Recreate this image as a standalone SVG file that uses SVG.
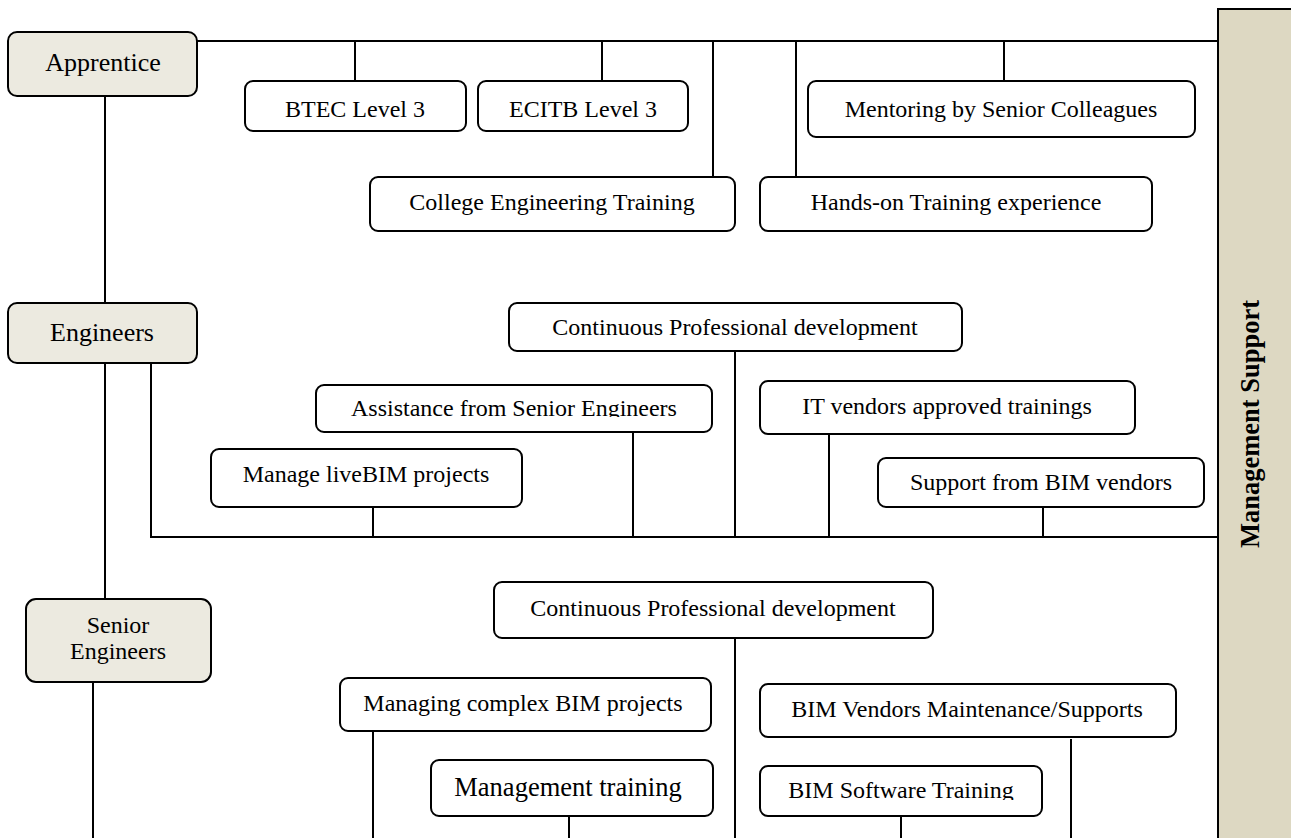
<svg xmlns="http://www.w3.org/2000/svg" width="1291" height="838" viewBox="0 0 1291 838">
<style>
  .box { fill: #ffffff; stroke: #000000; stroke-width: 2; }
  .lvl { fill: #ECEAE0; stroke: #000000; stroke-width: 2; }
  .bar { fill: #DDD8C2; stroke: #000000; stroke-width: 2; }
  .t { font-family: "Liberation Serif", "Times New Roman", serif; font-size: 24px; fill: #000000; text-anchor: middle; }
  .tl { font-family: "Liberation Serif", "Times New Roman", serif; font-size: 26px; fill: #000000; text-anchor: middle; }
  .tb { font-family: "Liberation Serif", "Times New Roman", serif; font-size: 26.5px; font-weight: bold; fill: #000000; text-anchor: middle; }
  .conn path { fill: none; stroke: #000000; stroke-width: 2; }
</style>
<defs>
  <clipPath id="clipAssist"><rect x="316" y="385" width="396" height="32"/></clipPath>
  <clipPath id="clipSoft"><rect x="760" y="766" width="282" height="34"/></clipPath>
</defs>
<rect x="0" y="0" width="1291" height="838" fill="#ffffff"/>

<g id="connectors" class="conn">
  <path d="M197,41 H1218"/>
  <path d="M355,41 V81"/>
  <path d="M602,41 V81"/>
  <path d="M713,41 V177"/>
  <path d="M796,41 V177"/>
  <path d="M1004,41 V81"/>
  <path d="M105,96 V303"/>
  <path d="M105,363 V599"/>
  <path d="M151,363 V537 H1218"/>
  <path d="M373,505 V537"/>
  <path d="M633,432 V537"/>
  <path d="M735,351 V537"/>
  <path d="M829,434 V537"/>
  <path d="M1043,505 V537"/>
  <path d="M93,682 V838"/>
  <path d="M735,638 V838"/>
  <path d="M373,731 V838"/>
  <path d="M569,816 V838"/>
  <path d="M901,816 V838"/>
  <path d="M1071,739 V838"/>
</g>

<g id="management-support">
  <rect class="bar" x="1218" y="9" width="80" height="840"/>
  <text class="tb" transform="translate(1259,424) rotate(-90)" x="0" y="0">Management Support</text>
</g>

<g id="apprentice">
  <rect class="lvl" x="8" y="32" width="189" height="64" rx="9"/>
  <text class="tl" x="103" y="71">Apprentice</text>
</g>
<g id="btec">
  <rect class="box" x="245" y="81" width="221" height="50" rx="8"/>
  <text class="t" x="355" y="117">BTEC Level 3</text>
</g>
<g id="ecitb">
  <rect class="box" x="478" y="81" width="210" height="50" rx="8"/>
  <text class="t" x="583" y="117">ECITB Level 3</text>
</g>
<g id="mentoring">
  <rect class="box" x="808" y="81" width="387" height="56" rx="8"/>
  <text class="t" x="1001" y="117">Mentoring by Senior Colleagues</text>
</g>
<g id="college">
  <rect class="box" x="370" y="177" width="365" height="54" rx="8"/>
  <text class="t" x="552" y="210">College Engineering Training</text>
</g>
<g id="handson">
  <rect class="box" x="760" y="177" width="392" height="54" rx="8"/>
  <text class="t" x="956" y="210">Hands-on Training experience</text>
</g>

<g id="engineers">
  <rect class="lvl" x="8" y="303" width="189" height="60" rx="9"/>
  <text class="tl" x="102" y="341">Engineers</text>
</g>
<g id="cpd-engineers">
  <rect class="box" x="509" y="303" width="453" height="48" rx="8"/>
  <text class="t" x="735" y="335">Continuous Professional development</text>
</g>
<g id="assistance">
  <rect class="box" x="316" y="385" width="396" height="47" rx="8"/>
  <text class="t" x="514" y="416" clip-path="url(#clipAssist)">Assistance from Senior Engineers</text>
</g>
<g id="it-vendors">
  <rect class="box" x="760" y="381" width="375" height="53" rx="8"/>
  <text class="t" x="947" y="414">IT vendors approved trainings</text>
</g>
<g id="manage-livebim">
  <rect class="box" x="211" y="449" width="311" height="58" rx="8"/>
  <text class="t" x="366" y="482">Manage liveBIM projects</text>
</g>
<g id="support-bim">
  <rect class="box" x="878" y="458" width="326" height="49" rx="8"/>
  <text class="t" x="1041" y="490">Support from BIM vendors</text>
</g>

<g id="senior-engineers">
  <rect class="lvl" x="26" y="599" width="185" height="83" rx="10"/>
  <text class="t" x="118" y="633">Senior</text>
  <text class="t" x="118" y="659">Engineers</text>
</g>
<g id="cpd-senior">
  <rect class="box" x="494" y="582" width="439" height="56" rx="8"/>
  <text class="t" x="713" y="616">Continuous Professional development</text>
</g>
<g id="managing-complex">
  <rect class="box" x="340" y="678" width="371" height="53" rx="8"/>
  <text class="t" x="523" y="711">Managing complex BIM projects</text>
</g>
<g id="bim-vendors">
  <rect class="box" x="760" y="684" width="416" height="53" rx="8"/>
  <text class="t" x="967" y="717">BIM Vendors Maintenance/Supports</text>
</g>
<g id="management-training">
  <rect class="box" x="431" y="760" width="282" height="56" rx="8"/>
  <text class="t" x="568" y="796" style="font-size:26.5px">Management training</text>
</g>
<g id="bim-software">
  <rect class="box" x="760" y="766" width="282" height="50" rx="8"/>
  <text class="t" x="901" y="798" clip-path="url(#clipSoft)">BIM Software Training</text>
</g>
</svg>
